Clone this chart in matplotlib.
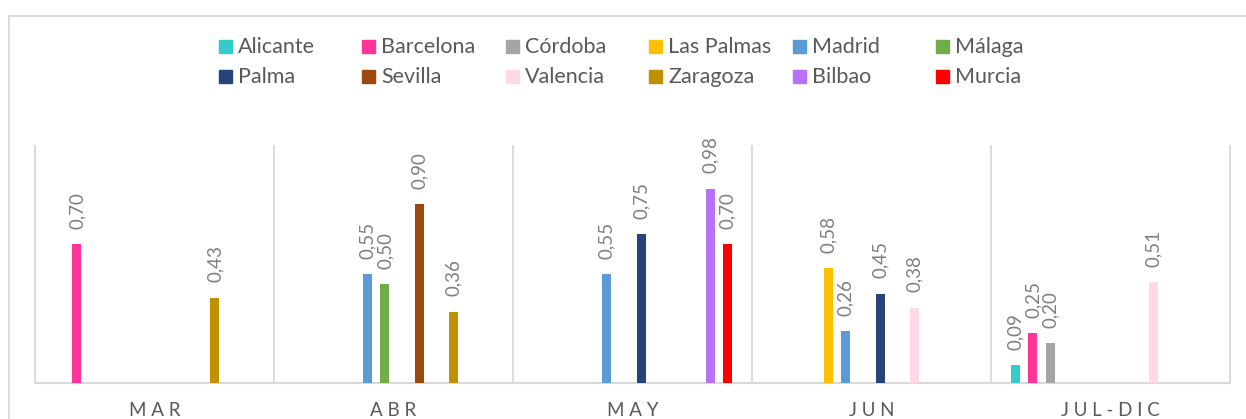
import matplotlib
matplotlib.use("Agg")
import matplotlib.pyplot as plt
import matplotlib.patches as patches
import matplotlib.lines as lines
import numpy as np

plt.rcParams['font.family'] = ['Lato', 'DejaVu Sans']

periods = ['MAR', 'ABR', 'MAY', 'JUN', 'JUL-DIC']
cities = ['Alicante', 'Barcelona', 'Córdoba', 'Las Palmas', 'Madrid', 'Málaga',
          'Palma', 'Sevilla', 'Valencia', 'Zaragoza', 'Bilbao', 'Murcia']
nan = np.nan
alicante   = [nan, nan, nan, nan, 0.09]
barcelona  = [0.70, nan, nan, nan, 0.25]
cordoba    = [nan, nan, nan, nan, 0.20]
las_palmas = [nan, nan, nan, 0.58, nan]
madrid     = [nan, 0.55, 0.55, 0.26, nan]
malaga     = [nan, 0.50, nan, nan, nan]
palma      = [nan, nan, 0.75, 0.45, nan]
sevilla    = [nan, 0.90, nan, nan, nan]
valencia   = [nan, nan, nan, 0.38, 0.51]
zaragoza   = [0.43, 0.36, nan, nan, nan]
bilbao     = [nan, nan, 0.98, nan, nan]
murcia     = [nan, nan, 0.70, nan, nan]
series = [alicante, barcelona, cordoba, las_palmas, madrid, malaga,
          palma, sevilla, valencia, zaragoza, bilbao, murcia]
colors = ['#33CCCC', '#FF3399', '#A5A5A5', '#FFC000', '#5B9BD5', '#70AD47',
          '#264478', '#9E480E', '#FFD9E8', '#BF9000', '#B772F8', '#FF0000']

W, H = 1246, 419
fig = plt.figure(figsize=(W / 100, H / 100), dpi=100)

def fx(px):
    return px / W

def fy(py):
    return 1 - py / H

# chart frame (left and top edges visible)
grid_col = '#D9D9D9'
fig.add_artist(lines.Line2D([fx(9), fx(9)], [fy(16), -0.1], color=grid_col, lw=1.3))
fig.add_artist(lines.Line2D([fx(9), 1.1], [fy(16), fy(16)], color=grid_col, lw=1.3))

ax = fig.add_axes([fx(35), 36 / H, 1195 / W, 238 / H])
x = np.arange(len(periods))
slot = 17.25 / 239
bar_w = 9 / 239
for j, (vals, col) in enumerate(zip(series, colors)):
    xs = x + (j - 5.5) * slot
    ax.bar(xs, vals, width=bar_w, color=col, zorder=3)
    for xi, v in zip(xs, vals):
        if np.isnan(v):
            continue
        ax.annotate(f"{v:.2f}".replace('.', ','), xy=(xi, v), xytext=(0, 11),
                    textcoords='offset points', rotation=90, ha='center',
                    va='bottom', fontsize=13.5, color='#7F7F7F')

ax.set_xlim(-0.5, len(periods) - 0.5)
ax.set_ylim(0, 1.2)
ax.vlines(np.arange(-0.5, len(periods), 1), 0, 1.2, color=grid_col, lw=1.3,
          zorder=1, clip_on=False)
ax.axhline(0, color=grid_col, lw=1.5, zorder=2, clip_on=False)
for s in ax.spines.values():
    s.set_visible(False)
ax.set_yticks([])
ax.set_xticks(x)
ax.set_xticklabels([' '.join(p) for p in periods], fontsize=13.5, color='#595959')
ax.tick_params(axis='x', length=0, pad=14)

# legend, 6 columns x 2 rows
for i, (name, col) in enumerate(zip(cities, colors)):
    row, c = divmod(i, 6)
    left = 219 + c * 143.4
    cy = 46.7 + row * 30
    fig.add_artist(patches.Rectangle((fx(left), fy(cy + 6.5)), fx(13), 13 / H,
                                     color=col, transform=fig.transFigure))
    fig.text(fx(left + 19), fy(cy), name, fontsize=15.5, color='#595959',
             va='center', ha='left')

fig.savefig('out.png', dpi=100)
